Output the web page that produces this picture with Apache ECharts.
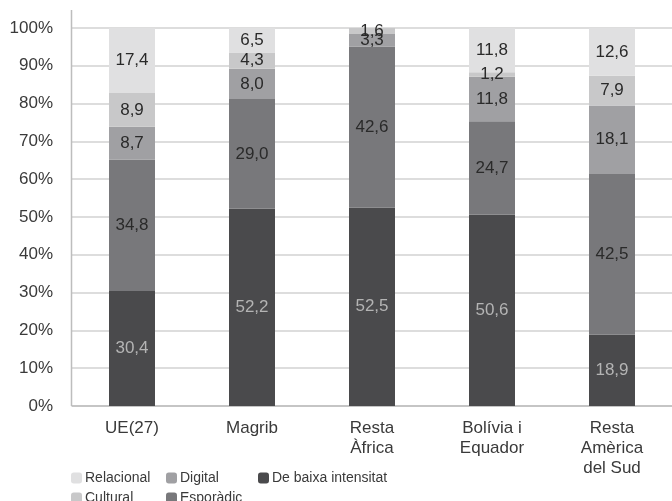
<!DOCTYPE html>
<html><head><meta charset="utf-8">
<script src="https://cdn.jsdelivr.net/npm/echarts@6/dist/echarts.min.js"></script>
<style>html,body{margin:0;padding:0;background:#fff}#c{width:672px;height:501px}</style>
</head><body><div id="c"></div>
<script>
const categories = ['UE(27)', 'Magrib', 'Resta\nÀfrica', 'Bolívia i\nEquador', 'Resta\nAmèrica\ndel Sud'];
const baixa = [30.4, 52.2, 52.5, 50.6, 18.9];
const esporadic = [34.8, 29.0, 42.6, 24.7, 42.5];
const digital = [8.7, 8.0, 3.3, 11.8, 18.1];
const cultural = [8.9, 4.3, 1.6, 1.2, 7.9];
const relacional = [17.4, 6.5, 0, 11.8, 12.6];
const yTicks = [0, 10, 20, 30, 40, 50, 60, 70, 80, 90, 100];

const FONT = 'Liberation Sans';
const TXT = '#3a3a3a';
const fmt = p => p.value ? p.value.toFixed(1).replace('.', ',') : '';
function s(name, data, color, labelColor) {
  return {
    name, type: 'bar', stack: 'total', data, barWidth: 46,
    itemStyle: { color },
    label: { show: true, position: 'inside', formatter: fmt, color: labelColor,
      fontFamily: FONT, fontSize: 17 },
    emphasis: { disabled: true }
  };
}
function lg(name, left, top) {
  return { data: [name], orient: 'horizontal', left, top, padding: 0, itemWidth: 11, itemHeight: 11,
    textStyle: { fontSize: 14, color: TXT, fontFamily: FONT, padding: [0, 0, 0, -2] }, selectedMode: false };
}
const chart = echarts.init(document.getElementById('c'), null, { renderer: 'canvas' });
chart.setOption({
  animation: false,
  textStyle: { fontFamily: FONT },
  grid: { left: 72, width: 605, top: 28, height: 378, containLabel: false },
  xAxis: {
    type: 'category', data: categories,
    axisLine: { lineStyle: { color: '#bdbdbd', width: 1.5 } },
    axisTick: { alignWithLabel: true, length: 7, lineStyle: { color: '#bdbdbd', width: 1.5 } },
    axisLabel: { color: TXT, fontSize: 17, lineHeight: 20, margin: 12, interval: 0, fontFamily: FONT }
  },
  yAxis: {
    type: 'value', min: 0, max: 100, interval: 10,
    axisLine: { show: false },
    axisTick: { show: false },
    splitLine: { lineStyle: { color: '#d2d2d2', width: 1.5 } },
    axisLabel: { formatter: v => v + '%', color: TXT, fontSize: 17, margin: 19, fontFamily: FONT }
  },
  graphic: [{ type: 'line', shape: { x1: 71.5, y1: 10, x2: 71.5, y2: 406 }, style: { stroke: '#bdbdbd', lineWidth: 1.5 }, z: 10 }],
  legend: [
    lg('Relacional', 71, 471),
    lg('Cultural', 71, 491),
    lg('Digital', 166, 471),
    lg('Esporàdic', 166, 491),
    lg('De baixa intensitat', 258, 471)
  ],
  series: [
    s('De baixa intensitat', baixa, '#4a4a4c', '#b4b4b4'),
    s('Esporàdic', esporadic, '#78787b', '#2a2a2a'),
    s('Digital', digital, '#a0a0a3', '#2a2a2a'),
    s('Cultural', cultural, '#c8c8c9', '#2a2a2a'),
    s('Relacional', relacional, '#e0e0e1', '#2a2a2a')
  ]
});
</script></body></html>
